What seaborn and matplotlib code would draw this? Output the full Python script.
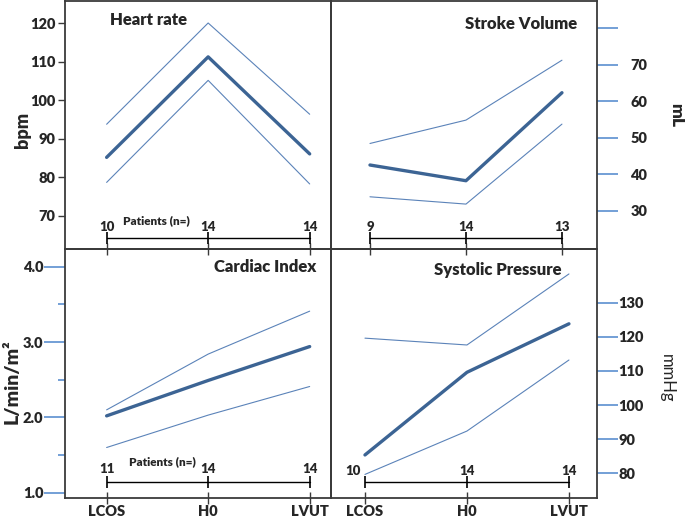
import numpy as np
import pandas as pd
import matplotlib.pyplot as plt
import seaborn as sns
from matplotlib.ticker import MultipleLocator

# data
stages = ["LCOS", "H0", "LVUT"]

hr_mean = [85.2, 111.3, 86.1]
hr_upper = [93.8, 120.1, 96.4]
hr_lower = [78.7, 105.2, 78.3]
hr_n = [10, 14, 14]

sv_mean = [42.5, 38.2, 62.3]
sv_upper = [48.4, 54.8, 71.2]
sv_lower = [33.8, 31.8, 53.7]
sv_n = [9, 14, 13]

ci_mean = [2.02, 2.49, 2.94]
ci_upper = [2.10, 2.84, 3.41]
ci_lower = [1.60, 2.03, 2.41]
ci_n = [11, 14, 14]

sp_mean = [85.4, 109.6, 123.8]
sp_upper = [119.6, 117.6, 138.4]
sp_lower = [79.7, 92.4, 113.2]
sp_n = [10, 14, 14]

MAIN = "#3c6494"
THIN = "#5b83b9"
TICK = "#5b8fd0"
SPINE = "#3a3a3a"
W = "heavy"

sns.set_style("white")
plt.rcParams["font.family"] = ["Lato", "DejaVu Sans"]


def draw_panel(ax, mean, upper, lower, xlim, ylim):
    x = np.arange(len(stages))
    df = pd.DataFrame({"x": x, "mean": mean, "upper": upper, "lower": lower})
    sns.lineplot(data=df, x="x", y="upper", ax=ax, color=THIN, lw=0.8)
    sns.lineplot(data=df, x="x", y="lower", ax=ax, color=THIN, lw=0.8)
    sns.lineplot(data=df, x="x", y="mean", ax=ax, color=MAIN, lw=2.4)
    ax.set_xlim(*xlim)
    ax.set_ylim(*ylim)
    ax.set_xlabel("")
    ax.set_ylabel("")
    ax.set_facecolor("none")
    for s in ax.spines.values():
        s.set_visible(True)
        s.set_color(SPINE)
        s.set_linewidth(1.3)
    ax.set_xticks(x)
    return x


def patients(ax, x, n, y_bar, y_num, num_x=None):
    tr = ax.get_xaxis_transform()
    ax.plot(x, [y_bar] * len(x), transform=tr, color="black", lw=1,
            marker="|", ms=8, mew=1.2, clip_on=False)
    xs = x if num_x is None else num_x
    for xi, ni in zip(xs, n):
        ax.text(xi, y_num, str(ni), transform=tr, ha="center", va="center",
                fontsize=9.5, fontweight=W)


fig = plt.figure(figsize=(6.85, 5.19), dpi=100)
fig.patch.set_facecolor("white")

L, M, R = 65 / 685, 331 / 685, 597 / 685
ax_hr = fig.add_axes([L, 0.5202, M - L, 0.4778])
ax_sv = fig.add_axes([M, 0.5202, R - M, 0.4778])
ax_ci = fig.add_axes([L, 0.0405, M - L, 0.4797])
ax_sp = fig.add_axes([M, 0.0405, R - M, 0.4797])

# Heart rate
x = draw_panel(ax_hr, hr_mean, hr_upper, hr_lower, (-0.41, 2.21), (61.4, 125.8))
ax_hr.set_yticks(range(70, 121, 10))
ax_hr.tick_params(axis="y", left=True, direction="out", length=5, width=1,
                  color=SPINE, labelsize=10.5, pad=2)
ax_hr.tick_params(axis="x", bottom=True, direction="inout", length=9, width=1,
                  color=SPINE, labelbottom=False)
ax_hr.text(0.169, 0.924, "Heart rate", transform=ax_hr.transAxes,
           fontsize=12, fontweight=W, va="center")
patients(ax_hr, x, hr_n, 0.045, 0.088)
ax_hr.text(0.49, 0.115, "Patients (n=)", transform=ax_hr.get_xaxis_transform(),
           ha="center", va="center", fontsize=8.5, fontweight=W)

# Stroke volume
x = draw_panel(ax_sv, sv_mean, sv_upper, sv_lower, (-0.406, 2.365), (19.5, 87.4))
ax_sv.set_yticks(range(30, 81, 10))
ax_sv.set_yticklabels(["30", "40", "50", "60", "70", ""])
ax_sv.yaxis.tick_right()
ax_sv.tick_params(axis="y", right=True, left=False, direction="out", length=15,
                  width=1.2, color=TICK, labelsize=10.5, pad=9)
ax_sv.tick_params(axis="x", bottom=True, direction="inout", length=9, width=1,
                  color=SPINE, labelbottom=False)
ax_sv.text(0.924, 0.908, "Stroke Volume", transform=ax_sv.transAxes,
           fontsize=12, fontweight=W, va="center", ha="right")
patients(ax_sv, x, sv_n, 0.045, 0.088)

# Cardiac index
x = draw_panel(ax_ci, ci_mean, ci_upper, ci_lower, (-0.41, 2.21), (0.93, 4.235))
ax_ci.yaxis.set_minor_locator(MultipleLocator(0.5))
ax_ci.set_yticks([1, 2, 3, 4])
ax_ci.set_yticklabels(["1.0", "2.0", "3.0", "4.0"])
ax_ci.tick_params(axis="y", which="major", left=True, direction="out", length=15,
                  width=1.2, color=TICK, labelsize=10.5, pad=0.5)
ax_ci.tick_params(axis="y", which="minor", left=True, direction="out", length=5,
                  width=1.2, color=TICK)
ax_ci.tick_params(axis="x", bottom=True, direction="inout", length=8, width=1,
                  color=SPINE, labelsize=10.5, pad=1)
ax_ci.set_xticklabels(stages, fontweight=W)
ax_ci.text(0.946, 0.928, "Cardiac Index", transform=ax_ci.transAxes,
           fontsize=12, fontweight=W, va="center", ha="right")
patients(ax_ci, x, ci_n, 0.063, 0.115)
ax_ci.text(0.55, 0.148, "Patients (n=)", transform=ax_ci.get_xaxis_transform(),
           ha="center", va="center", fontsize=8.5, fontweight=W)

# Systolic pressure
x = draw_panel(ax_sp, sp_mean, sp_upper, sp_lower, (-0.333, 2.275), (72.8, 145.7))
ax_sp.set_yticks(range(80, 131, 10))
ax_sp.yaxis.tick_right()
ax_sp.tick_params(axis="y", right=True, left=False, direction="out", length=15,
                  width=1.2, color=TICK, labelsize=10.5, pad=0.5)
ax_sp.tick_params(axis="x", bottom=True, direction="inout", length=8, width=1,
                  color=SPINE, labelsize=10.5, pad=1)
ax_sp.set_xticklabels(stages, fontweight=W)
ax_sp.text(0.865, 0.916, "Systolic Pressure", transform=ax_sp.transAxes,
           fontsize=12, fontweight=W, va="center", ha="right")
patients(ax_sp, x, sp_n, 0.063, 0.108, num_x=[-0.12, 1, 2])

for ax in (ax_hr, ax_sv, ax_ci, ax_sp):
    for lab in ax.get_yticklabels():
        lab.set_fontweight(W)

# axis unit labels
fig.text(22 / 685, 1 - 130 / 519, "bpm", rotation=90, ha="center", va="center",
         fontsize=13, fontweight=W)
fig.text(12 / 685, 1 - 382 / 519, "L/min/m²", rotation=90, ha="center", va="center",
         fontsize=14, fontweight=W)
fig.text(676 / 685, 1 - 115 / 519, "mL", rotation=270, ha="center", va="center",
         fontsize=12.5, fontweight=W)
fig.text(667 / 685, 1 - 378 / 519, "mmHg", rotation=270, ha="center", va="center",
         fontsize=12)

fig.savefig("out.png", dpi=100)
